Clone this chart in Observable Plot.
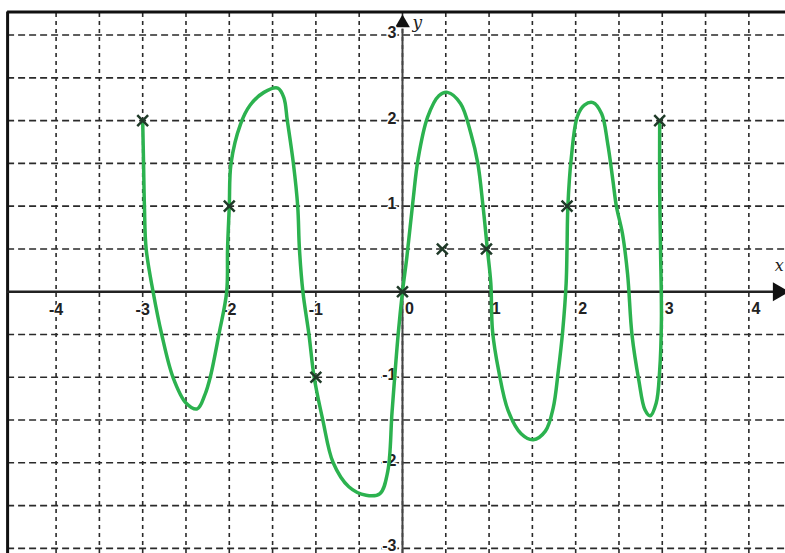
<!DOCTYPE html>
<html><head><meta charset="utf-8">
<script src="https://cdn.jsdelivr.net/npm/d3@7"></script>
<script src="https://cdn.jsdelivr.net/npm/@observablehq/plot@0.6"></script>
<style>body{margin:0;background:#fff;overflow:hidden}</style>
</head><body><div id="chart"></div>
<script>
// hand-drawn curve, in drawing order
const curveX = [-3.00,-2.99,-2.98,-2.96,-2.88,-2.78,-2.65,-2.50,-2.37,-2.28,-2.22,-2.12,-2.03,-2.02,-2.00,-1.98,-1.87,-1.76,-1.60,-1.44,-1.37,-1.33,-1.26,-1.21,-1.19,-1.15,-1.08,-1.02,-0.92,-0.80,-0.62,-0.42,-0.26,-0.17,-0.12,-0.05,0.00,0.05,0.12,0.18,0.29,0.42,0.52,0.67,0.79,0.87,0.93,0.98,1.02,1.04,1.11,1.22,1.37,1.51,1.65,1.74,1.80,1.85,1.89,1.90,1.91,1.95,2.02,2.10,2.20,2.30,2.37,2.43,2.47,2.54,2.60,2.65,2.73,2.80,2.86,2.93,2.97,2.99,2.98,2.97,2.97];
const curveY = [2.00,1.50,1.00,0.50,0.00,-0.50,-1.00,-1.30,-1.37,-1.20,-1.00,-0.50,0.00,0.50,1.00,1.50,1.96,2.18,2.33,2.38,2.27,2.00,1.50,1.00,0.50,0.00,-0.50,-1.00,-1.50,-2.00,-2.28,-2.38,-2.36,-2.10,-1.40,-0.50,0.00,0.40,1.05,1.55,2.04,2.29,2.33,2.20,1.85,1.50,1.00,0.50,0.10,-0.46,-0.92,-1.39,-1.66,-1.73,-1.63,-1.36,-0.92,-0.46,0.10,0.50,1.00,1.57,2.05,2.18,2.21,2.08,1.73,1.30,1.00,0.68,0.20,-0.50,-1.04,-1.38,-1.45,-1.30,-0.92,-0.34,0.50,1.20,2.00];
// crosses marked on the graph
const markX = [-3, -2, -1, 0, 0.46, 0.97, 1.9, 2.97];
const markY = [2, 1, -1, 0, 0.5, 0.5, 1, 2];
// axis tick labels
const xTicks = [-4, -3, -2, -1, 0, 1, 2, 3, 4];
const xTickLabels = ["-4", "-3", "-2", "-1", "0", "1", "2", "3", "4"];
const yTicks = [3, 2, 1, -1, -2, -3];
const yTickLabels = ["3", "2", "1", "-1", "-2", "-3"];
// dashed grid every half unit
const gridX = [-4, -3.5, -3, -2.5, -2, -1.5, -1, -0.5, 0, 0.5, 1, 1.5, 2, 2.5, 3, 3.5, 4];
const gridY = [-3, -2.5, -2, -1.5, -1, -0.5, 0, 0.5, 1, 1.5, 2, 2.5, 3];

const xDomain = [-4.642, 4.423];
const yDomain = [-3.06, 3.404];
const frameTop = 3.27, frameLeft = -4.56;
const axisXEnd = 4.40, axisYEnd = 3.17;

const curve = curveX.map((x, i) => ({x, y: curveY[i]}));
const marks = markX.map((x, i) => ({x, y: markY[i]}));
const xLab = xTicks.map((v, i) => ({v, label: xTickLabels[i]}));
const yLab = yTicks.map((v, i) => ({v, label: yTickLabels[i]}));
const tickFont = "Liberation Sans, Arial, sans-serif";
const labStyle = {fontSize: 16, fontWeight: "bold", fontFamily: tickFont, fill: "#222", stroke: "#fff", strokeWidth: 3, paintOrder: "stroke"};

const chart = Plot.plot({
  width: 785, height: 553,
  marginTop: 0, marginRight: 0, marginBottom: 0, marginLeft: 0,
  x: {domain: xDomain, axis: null},
  y: {domain: yDomain, axis: null},
  style: {background: "#fff"},
  marks: [
    Plot.ruleX(gridX, {x: d => d, y1: yDomain[0], y2: frameTop, stroke: "#2a2a2a", strokeWidth: 1.6, strokeDasharray: "4,4"}),
    Plot.ruleY(gridY, {y: d => d, x1: frameLeft, x2: xDomain[1], stroke: "#2a2a2a", strokeWidth: 1.6, strokeDasharray: "7,4"}),
    Plot.ruleY([frameTop], {x1: frameLeft, x2: xDomain[1], stroke: "#111", strokeWidth: 3}),
    Plot.ruleX([frameLeft], {y1: yDomain[0], y2: frameTop, stroke: "#111", strokeWidth: 3}),
    Plot.ruleY([0], {x1: frameLeft, x2: axisXEnd - 0.1, stroke: "#222", strokeWidth: 2.5}),
    Plot.ruleX([0], {y1: yDomain[0], y2: axisYEnd - 0.1, stroke: "#444", strokeWidth: 2}),
    Plot.dot([0], {x: axisXEnd - 0.06, y: 0, symbol: "triangle", r: 7, fill: "#111", stroke: "none", rotate: 90}),
    Plot.dot([0], {x: 0, y: axisYEnd - 0.03, symbol: "triangle", r: 5.5, fill: "#111", stroke: "none"}),
    Plot.text(xLab.filter(d => d.v < 0), {x: "v", y: 0, text: "label", dy: 18, ...labStyle}),
    Plot.text(xLab.filter(d => d.v >= 0), {x: "v", y: 0, text: "label", dy: 17, dx: 7, ...labStyle}),
    Plot.text(yLab, {x: 0, y: "v", text: "label", dx: -6, dy: -2, textAnchor: "end", ...labStyle}),
    Plot.text(["y"], {x: 0.17, y: 3.15, text: d => d, fontSize: 17, fontStyle: "italic", fontFamily: "DejaVu Serif, serif", fill: "#222"}),
    Plot.text(["x"], {x: 4.35, y: 0.3, text: d => d, fontSize: 16, fontStyle: "italic", fontFamily: "DejaVu Serif, serif", fill: "#222"}),
    Plot.line(curve, {x: "x", y: "y", curve: "catmull-rom", stroke: "#2cb24f", strokeWidth: 3.5, strokeLinejoin: "round", strokeLinecap: "round"}),
    Plot.dot(marks, {x: "x", y: "y", symbol: "times", r: 5, stroke: "#1f3a28", strokeWidth: 2.5})
  ]
});
document.getElementById("chart").appendChild(chart);
</script>
</body></html>
